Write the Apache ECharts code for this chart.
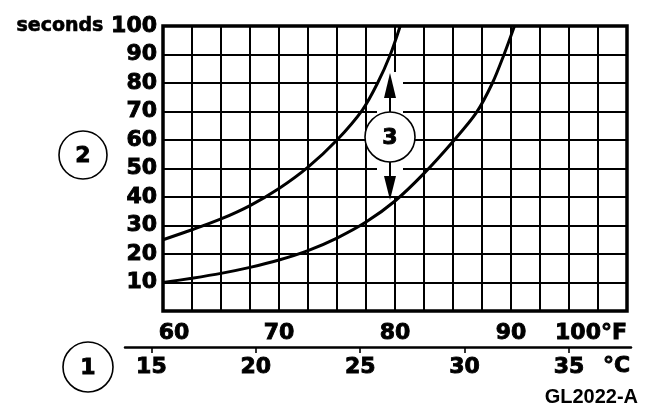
<!DOCTYPE html>
<html><head><meta charset="utf-8">
<script src="https://cdn.jsdelivr.net/npm/echarts@6/dist/echarts.min.js"></script>
<style>html,body{margin:0;padding:0;background:#fff}#c{width:672px;height:414px}</style>
</head><body><div id="c"></div>
<script>
// ---- data ----
const fahrenheitLabels = [60, 70, 80, 90, 100];
const celsiusLabels = [15, 20, 25, 30, 35];
const secondsLabels = [10, 20, 30, 40, 50, 60, 70, 80, 90, 100];
// [°F, seconds]
const upperCurve = [[60,25],[62.5,28.5],[65,32.3],[67.5,37],[70,43],[72.5,50.5],[75,60],[77.2,70.6],[78.5,80],[79.6,90],[80.45,100]];
const lowerCurve = [[60,10],[62.5,11.5],[65,13.2],[67.5,15.3],[70,17.9],[72.5,21.2],[75,25.6],[77.5,31.2],[80,38.6],[82.5,48.3],[85,59.5],[87,69.5],[88.4,80],[89.4,90],[90.3,100]];

// ---- layout ----
const W = 672, H = 414;
const gL = 163, gR = 627, gT = 26, gB = 311;
const fMin = 60, fMax = 100;
const cLineL = 125, cLineR = 631, cLineY = 347;
const pxPerF = (gR - gL) / (fMax - fMin);
const xToC = x => ((fMin + (x - gL) / pxPerF) - 32) * 5 / 9;
const cMin = xToC(cLineL), cMax = xToC(cLineR);

const NUM_FONT = 'DejaVu Sans';
const numStyle = { color: '#000', fontFamily: NUM_FONT, fontWeight: 'bold', fontSize: 22, textBorderColor: '#000', textBorderWidth: 0.9 };

const chart = echarts.init(document.getElementById('c'), null, { renderer: 'canvas' });

function circleLabel(cx, cy, r, txt) {
  return [
    { type: 'circle', z: 10, shape: { cx, cy, r }, style: { fill: '#fff', stroke: '#000', lineWidth: 1.6 } },
    { type: 'text', z: 11, x: cx, y: cy + 1, style: { text: txt, fill: '#000', stroke: '#000', lineWidth: 0.9, font: 'bold 22px "DejaVu Sans"', align: 'center', verticalAlign: 'middle' } }
  ];
}

const ax = 390;
chart.setOption({
  backgroundColor: '#fff',
  animation: false,
  grid: [
    { left: gL, right: W - gR, top: gT, bottom: H - gB, show: true, borderColor: '#000', borderWidth: 3.5, backgroundColor: 'transparent' },
    { left: cLineL, right: W - cLineR, bottom: H - cLineY, height: 1 }
  ],
  xAxis: [
    {
      type: 'value', gridIndex: 0, min: fMin, max: fMax, interval: 2.5,
      axisLine: { show: false }, axisTick: { show: false },
      splitLine: { show: true, lineStyle: { color: '#000', width: 2 } },
      axisLabel: Object.assign({}, numStyle, {
        margin: 11,
        alignMinLabel: 'center', alignMaxLabel: 'right',
        formatter: v => {
          if (fahrenheitLabels.indexOf(v) < 0) return '';
          if (v === fahrenheitLabels[0]) return '{m|' + v + '}';
          if (v === fahrenheitLabels[fahrenheitLabels.length - 1]) return v + '°F';
          return String(v);
        },
        rich: { m: Object.assign({}, numStyle, { padding: [0, 0, 0, 22] }) }
      })
    },
    {
      type: 'value', gridIndex: 1, min: cMin, max: cMax,
      axisLine: { show: true, lineStyle: { color: '#000', width: 2.5 } },
      axisTick: { show: true, customValues: celsiusLabels, length: 6, lineStyle: { color: '#000', width: 1.6 } },
      splitLine: { show: false },
      axisLabel: Object.assign({}, numStyle, { margin: 9, customValues: celsiusLabels, formatter: v => String(v) })
    }
  ],
  yAxis: [
    {
      type: 'value', gridIndex: 0, min: 0, max: 100, interval: 10,
      axisLine: { show: false }, axisTick: { show: false },
      splitLine: { show: true, lineStyle: { color: '#000', width: 2 } },
      axisLabel: Object.assign({}, numStyle, {
        margin: 6,
        formatter: v => {
          if (secondsLabels.indexOf(v) < 0) return '';
          if (v === secondsLabels[secondsLabels.length - 1]) return '{s|seconds} ' + v;
          return String(v);
        },
        rich: { s: { color: '#000', fontFamily: NUM_FONT, fontWeight: 'bold', fontSize: 19, textBorderColor: '#000', textBorderWidth: 0.6 } }
      })
    },
    { type: 'value', gridIndex: 1, show: false }
  ],
  series: [
    { type: 'line', xAxisIndex: 0, yAxisIndex: 0, data: upperCurve, smooth: 0.3, showSymbol: false, z: 5,
      lineStyle: { color: '#000', width: 3 } },
    { type: 'line', xAxisIndex: 0, yAxisIndex: 0, data: lowerCurve, smooth: 0.3, showSymbol: false, z: 5,
      lineStyle: { color: '#000', width: 3 } }
  ],
  graphic: [
    // white halo behind the "3" annotation
    { type: 'rect', z: 1, shape: { x: ax - 13, y: 72, width: 26, height: 124 }, style: { fill: '#fff' } },
    // arrows
    { type: 'line', z: 10, shape: { x1: ax, y1: 96, x2: ax, y2: 113 }, style: { stroke: '#000', lineWidth: 2 } },
    { type: 'polygon', z: 10, shape: { points: [[ax, 73], [ax - 6, 98], [ax + 6, 98]] }, style: { fill: '#000' } },
    { type: 'line', z: 10, shape: { x1: ax, y1: 161, x2: ax, y2: 178 }, style: { stroke: '#000', lineWidth: 2 } },
    { type: 'polygon', z: 10, shape: { points: [[ax, 200], [ax - 6, 176], [ax + 6, 176]] }, style: { fill: '#000' } },
    ...circleLabel(ax, 137, 25, '3'),
    ...circleLabel(83, 155, 24, '2'),
    ...circleLabel(88, 367, 25, '1'),
    { type: 'text', z: 10, x: 603, y: 366, style: { text: '°C', fill: '#000', stroke: '#000', lineWidth: 0.9, font: 'bold 22px "DejaVu Sans"', align: 'left', verticalAlign: 'middle' } },
    { type: 'text', z: 10, x: 638, y: 397, style: { text: 'GL2022-A', fill: '#000', font: 'bold 20px "Liberation Sans"', align: 'right', verticalAlign: 'middle' } }
  ]
});
</script>
</body></html>
